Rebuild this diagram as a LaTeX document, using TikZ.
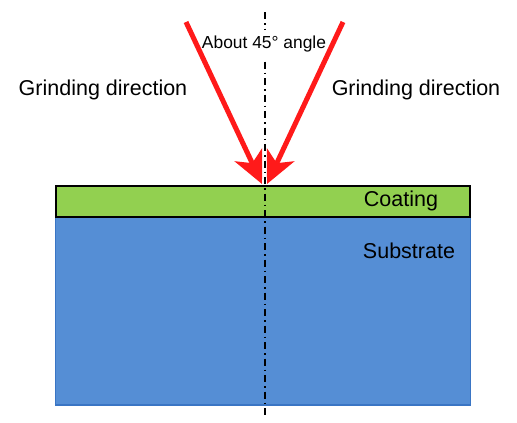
\documentclass[tikz,border=0pt]{standalone}
\usepackage{fontspec}
\setmainfont{Liberation Sans}
\usetikzlibrary{arrows.meta}
\definecolor{coatgreen}{HTML}{92D050}
\definecolor{subblue}{HTML}{558ED5}
\definecolor{subborder}{HTML}{3A75C4}
\definecolor{arrred}{HTML}{FF1A1A}
\tikzset{
  lbl/.style={font=\fontsize{21.5}{24}\selectfont, inner sep=0pt},
  grind/.style={draw=arrred, line width=5pt, -{Stealth[length=32pt,width=30pt,inset=9pt]}},
}
\begin{document}
\begin{tikzpicture}[x=1pt,y=-1pt]
\useasboundingbox (0,0) rectangle (517,423);
\fill[white] (0,0) rectangle (517,423);
% substrate
\node[draw=subborder, line width=1.5pt, fill=subblue, minimum width=415pt, minimum height=188pt, anchor=north west, inner sep=0pt] (sub) at (54.5,216) {};
% coating
\node[draw=black, line width=1.5pt, fill=coatgreen, minimum width=414pt, minimum height=31pt, anchor=north west, inner sep=0pt] (coat) at (55,185) {};
% dash-dot axis
\coordinate (atop) at (265,12);
\coordinate (abot) at (265,416);
\draw[line width=1.5pt, dash pattern=on 7pt off 4pt on 1.5pt off 4pt] (atop) -- (abot);
% angle label (white box hides the axis)
\node[font=\fontsize{17.4}{20}\selectfont, fill=white, inner xsep=1pt, inner ysep=0pt, minimum height=28pt] (ang) at (264,44) {About 45° angle};
% arrows
\coordinate (ls) at (186,22);
\coordinate (rs) at (343,22);
\coordinate (lt) at (262,184);
\coordinate (rt) at (267,184);
\draw[grind] (ls) -- (lt);
\draw[grind] (rs) -- (rt);
% labels
\node[lbl] (gl) at (103,90) {Grinding direction};
\node[lbl] (gr) at (416,90) {Grinding direction};
\node[lbl] (ct) at (401,201) {Coating};
\node[lbl] (st) at (409,251) {Substrate};
\end{tikzpicture}
\end{document}
